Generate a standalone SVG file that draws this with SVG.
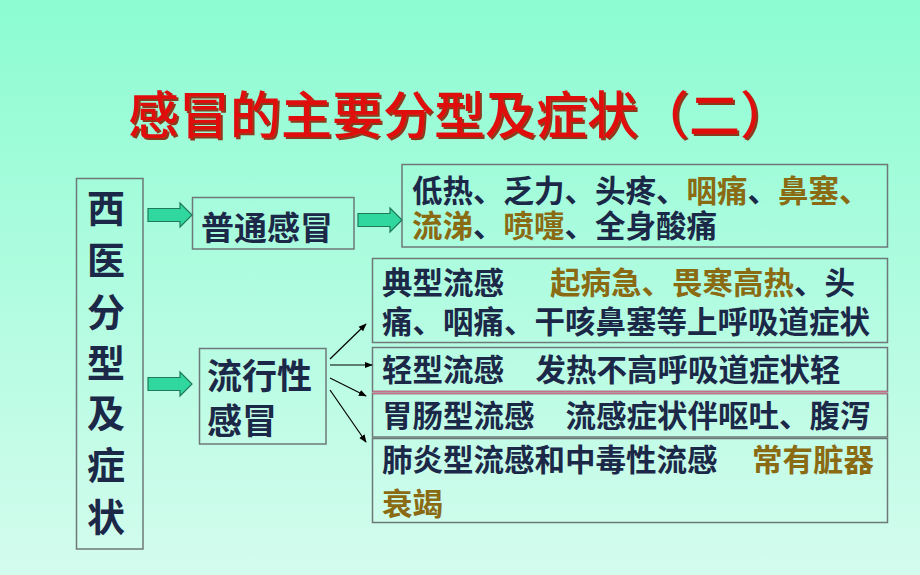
<svg xmlns="http://www.w3.org/2000/svg" width="920" height="575" viewBox="0 0 920 575">
<defs>
<linearGradient id="bg" x1="0" y1="0" x2="0" y2="1">
<stop offset="0" stop-color="#8cfcd2"/>
<stop offset="1" stop-color="#d4fcee"/>
</linearGradient>
<filter id="sh" x="-5%" y="-20%" width="110%" height="140%">
<feDropShadow dx="2" dy="2" stdDeviation="0.3" flood-color="#8b3a1a" flood-opacity="1"/>
</filter>
<path id="blk" d="M0,-6.5 H32 V-12 L44,0 L32,12 V6.5 H0 Z"/>
<marker id="ah" viewBox="0 0 10 10" refX="9" refY="5" markerWidth="8" markerHeight="8" orient="auto" markerUnits="userSpaceOnUse">
<path d="M0,1 L10,5 L0,9 Z" fill="#000"/>
</marker>
<style>
.box{fill:none;stroke:#6e7878;stroke-width:1.5}
.t{font-family:"Noto Sans CJK SC","Noto Sans CJK TC",sans-serif;font-weight:bold;fill:#1c2848;font-size:30.5px}
.b{fill:#8a6a12}
.ttl{font-family:"Noto Sans CJK SC",sans-serif;font-weight:500;font-size:51px;fill:#e01010}
.ba{fill:#30d8a0;stroke:#1e7a5a;stroke-width:1.2}
.ln{stroke:#000;stroke-width:1.2;fill:none;marker-end:url(#ah)}
.pk{stroke:#c87088;stroke-width:1.5}
</style>
</defs>
<rect width="920" height="575" fill="url(#bg)"/>
<g id="title">
<text class="ttl" x="128" y="134" filter="url(#sh)">感冒的主要分型及症状（二）</text>
</g>
<g id="xiyi">
<rect class="box" x="76.5" y="178.5" width="66.5" height="370.5"/>
<g class="t" style="font-size:38px" text-anchor="middle">
<text x="106" y="222">西</text>
<text x="106" y="274">医</text>
<text x="106" y="326">分</text>
<text x="106" y="377">型</text>
<text x="106" y="427">及</text>
<text x="106" y="479">症</text>
<text x="106" y="531">状</text>
</g>
</g>
<g id="putong">
<rect class="box" x="192.5" y="197.5" width="161.5" height="51.5"/>
<text class="t" style="font-size:33px" x="201" y="239.5">普通感冒</text>
</g>
<g id="liuxing">
<rect class="box" x="199.5" y="348.5" width="126.5" height="95.5"/>
<text class="t" style="font-size:35px" x="207" y="389">流行性</text>
<text class="t" style="font-size:35px" x="207" y="434">感冒</text>
</g>
<g id="s1">
<rect class="box" x="402" y="164.5" width="485.5" height="82.5"/>
<text class="t" x="412" y="202">低热、乏力、头疼、</text>
<text class="t b" x="686.5" y="202">咽痛</text>
<text class="t" x="747.5" y="202">、</text>
<text class="t b" x="778" y="202">鼻塞、</text>
<text class="t b" x="412" y="237">流涕</text>
<text class="t" x="473" y="237">、</text>
<text class="t b" x="503.5" y="237">喷嚏</text>
<text class="t" x="564.5" y="237">、全身酸痛</text>
</g>
<g id="s2">
<rect class="box" x="372.5" y="258.5" width="515" height="84"/>
<text class="t" x="382" y="294">典型流感</text>
<text class="t b" x="550" y="294">起病急、畏寒高热</text>
<text class="t" x="794" y="294">、头</text>
<text class="t" x="382" y="333">痛、咽痛、干咳鼻塞等上呼吸道症状</text>
</g>
<g id="s3">
<rect class="box" x="372.5" y="347.5" width="515" height="44"/>
<line class="pk" x1="372.5" y1="391.5" x2="887.5" y2="391.5"/>
<text class="t" x="382" y="381">轻型流感</text>
<text class="t" x="535.5" y="381">发热不高呼吸道症状轻</text>
</g>
<g id="s4">
<rect class="box" x="372.5" y="393.5" width="515" height="43.5"/>
<line class="pk" x1="372.5" y1="393.5" x2="887.5" y2="393.5"/>
<text class="t" x="382" y="427">胃肠型流感</text>
<text class="t" x="565.5" y="427">流感症状伴呕吐、腹泻</text>
</g>
<g id="s5">
<rect class="box" x="372.5" y="438.5" width="515" height="84"/>
<text class="t" x="382" y="471">肺炎型流感和中毒性流感</text>
<text class="t b" x="752" y="471">常有脏器</text>
<text class="t b" x="382" y="515">衰竭</text>
</g>
<g id="connectors">
<use href="#blk" class="ba" transform="translate(148,215)"/>
<use href="#blk" class="ba" transform="translate(148,384)"/>
<use href="#blk" class="ba" transform="translate(358,220)"/>
<line class="ln" x1="330" y1="359" x2="366" y2="324"/>
<line class="ln" x1="330" y1="365" x2="372" y2="365"/>
<line class="ln" x1="330" y1="378" x2="366" y2="396"/>
<line class="ln" x1="330" y1="390" x2="366" y2="442"/>
</g>
</svg>
